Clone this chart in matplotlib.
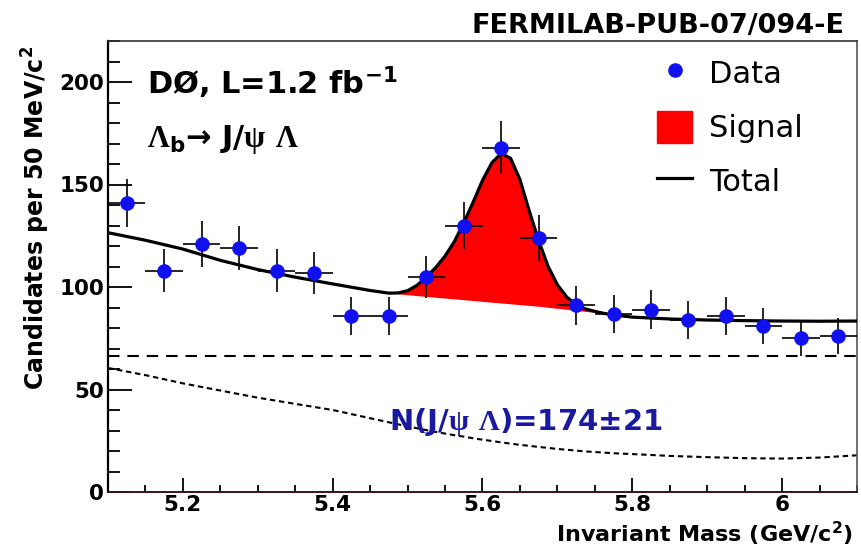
import matplotlib
matplotlib.use("Agg")
import matplotlib.pyplot as plt
from matplotlib.lines import Line2D
from matplotlib.patches import Patch
from matplotlib.ticker import MultipleLocator, FormatStrFormatter

plt.rcParams['font.family'] = ['DejaVu Sans']
plt.rcParams['font.weight'] = 'bold'
plt.rcParams['mathtext.fontset'] = 'custom'
plt.rcParams['mathtext.rm'] = 'Liberation Serif'
plt.rcParams['mathtext.bf'] = 'Liberation Serif:bold'
plt.rcParams['mathtext.default'] = 'regular'

# data points (bin centres, counts, errors)
mass = [5.125, 5.175, 5.225, 5.275, 5.325, 5.375, 5.425, 5.475, 5.525, 5.575,
        5.625, 5.675, 5.725, 5.775, 5.825, 5.875, 5.925, 5.975, 6.025, 6.075]
counts = [141, 108, 121, 119, 108, 107, 86, 86, 105, 130,
          168, 124, 91, 87, 89, 84, 86, 81, 75, 76]
errors = [11.9, 10.4, 11.0, 10.9, 10.4, 10.3, 9.3, 9.3, 10.2, 11.4,
          13.0, 11.1, 9.5, 9.3, 9.4, 9.2, 9.3, 9.0, 8.7, 8.7]
bin_half = 0.025

# fit curves
fit_x = [5.10, 5.15, 5.20, 5.25, 5.30, 5.35, 5.40, 5.45,
         5.475, 5.4875, 5.50, 5.5125, 5.525, 5.5375, 5.55, 5.5625, 5.575, 5.5875,
         5.60, 5.6125, 5.625, 5.6375, 5.65, 5.6625, 5.675, 5.6875, 5.70, 5.7125,
         5.725, 5.7375, 5.75, 5.7625, 5.775,
         5.80, 5.85, 5.90, 5.95, 6.00, 6.05, 6.10]
bkg_total = [126.5, 122.8, 118.5, 113.0, 108.5, 104.8, 101.5, 98.3,
             97.0, 96.6, 96.2, 95.8, 95.4, 95.0, 94.6, 94.2, 93.8, 93.4,
             93.0, 92.6, 92.2, 91.8, 91.4, 91.0, 90.6, 90.1, 89.6, 89.1,
             88.6, 88.1, 87.6, 87.0, 86.4,
             85.3, 84.4, 83.9, 83.6, 83.4, 83.3, 83.4]
signal = [0, 0, 0, 0, 0, 0, 0, 0,
          0, 0.5, 2, 5, 9.5, 14.5, 20.5, 28, 37.5, 48,
          59, 68, 73, 71, 61, 46, 32, 20, 11.5, 6,
          2.8, 1.2, 0.5, 0.1, 0,
          0, 0, 0, 0, 0, 0, 0]
comb_bkg = [60.5, 57, 53, 49.5, 46, 43, 40, 36,
            34, 33, 32, 31.1, 30.2, 29.3, 28.5, 27.7, 27, 26.2,
            25.5, 24.9, 24.2, 23.6, 23, 22.5, 22, 21.5, 21, 20.6,
            20.2, 19.8, 19.5, 19.2, 18.9,
            18.5, 17.6, 17, 16.5, 16.3, 16.8, 17.9]
flat_bkg = 66.5

total = [b + s for b, s in zip(bkg_total, signal)]

W, H = 862, 549
fig = plt.figure(figsize=(W / 100, H / 100), dpi=100)
ax = fig.add_axes([108 / W, 57 / H, 749 / W, 451 / H])

ax.fill_between(fit_x, bkg_total, total, where=[s > 0 for s in signal],
                color='#ff0000', linewidth=0, zorder=2)
ax.plot(fit_x, total, color='black', lw=2.3, zorder=3)
ax.axhline(flat_bkg, color='black', lw=1.5, linestyle=(0, (5.5, 3.8)), zorder=2)
ax.plot(fit_x, comb_bkg, color='black', lw=1.5, linestyle=(0, (2.6, 1.8)), zorder=2)
ax.errorbar(mass, counts, yerr=errors, xerr=bin_half, fmt='o', color='#1010f0',
            ecolor='black', elinewidth=1.2, markersize=9.5, capsize=0, zorder=4)

ax.set_xlim(5.1, 6.1)
ax.set_ylim(0, 220)
ax.xaxis.set_major_locator(MultipleLocator(0.2))
ax.xaxis.set_minor_locator(MultipleLocator(0.05))
ax.yaxis.set_major_locator(MultipleLocator(50))
ax.yaxis.set_minor_locator(MultipleLocator(10))
ax.xaxis.set_major_formatter(FormatStrFormatter('%g'))
ax.tick_params(axis='both', which='both', direction='in', width=1.3, labelsize=15.5)
ax.tick_params(axis='y', which='major', length=17, pad=3)
ax.tick_params(axis='y', which='minor', length=8.5)
ax.tick_params(axis='x', which='major', length=10, pad=2)
ax.tick_params(axis='x', which='minor', length=5)
ax.spines['left'].set_linewidth(1.6)
ax.spines['bottom'].set_linewidth(1.4)
ax.spines['bottom'].set_color('#3a1414')
ax.spines['top'].set_linewidth(1.2)
ax.spines['top'].set_color('#333333')
ax.spines['right'].set_linewidth(1.2)
ax.spines['right'].set_color('#555555')

ax.set_ylabel('Candidates per 50 MeV/c$^{2}$', fontsize=17, fontweight='bold',
              ha='right', va='center')
ax.yaxis.set_label_coords((36 - 108) / 749, (492 - 46) / 451)
ax.set_xlabel('Invariant Mass (GeV/c$^{2}$)', fontsize=16, fontweight='bold',
              ha='right', va='baseline')
ax.xaxis.set_label_coords((853 - 108) / 749, (492 - 542) / 451)

fig.text(845 / W, 1 - 33 / H, 'FERMILAB-PUB-07/094-E', fontsize=19.5,
         ha='right', va='baseline')
fig.text(147 / W, 1 - 94 / H, 'DØ, L=1.2 fb$^{-1}$', fontsize=22, va='baseline')
fig.text(147 / W, 1 - 147 / H,
         r'$\mathrm{\Lambda}_{b}$→ J/$\mathrm{\psi}$ $\mathrm{\Lambda}$',
         fontsize=22, va='baseline')
fig.text(389 / W, 1 - 430 / H, r'N(J/$\mathbf{\psi}$ $\mathbf{\Lambda}$)=174±21',
         fontsize=21, color='#1a1aa0', va='baseline')

handles = [Line2D([], [], marker='o', color='#1010f0', linestyle='none', markersize=9.5),
           Patch(facecolor='#ff0000', edgecolor='#ff0000'),
           Line2D([], [], color='black', lw=2.3)]
ax.legend(handles, ['Data', 'Signal', 'Total'], loc='upper left',
          bbox_to_anchor=((657 - 108) / 749, (492 - 57) / 451),
          frameon=False, prop={'size': 22, 'weight': 'normal'},
          handlelength=1.15, handleheight=1.25, handletextpad=0.55,
          labelspacing=0.7, borderpad=0, borderaxespad=0)

fig.savefig('out.png', dpi=100)
